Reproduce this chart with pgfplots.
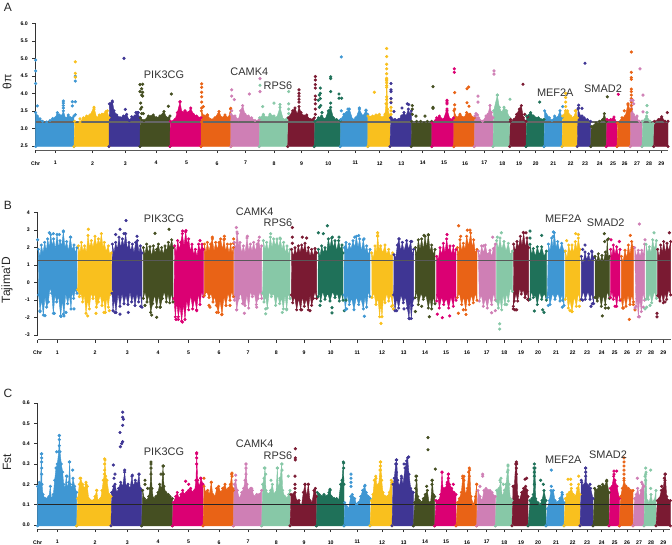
\documentclass[border=0pt]{standalone}
\usepackage{fontspec}
\setmainfont{Liberation Sans}
\usepackage{pgfplots}
\pgfplotsset{compat=1.18}

\definecolor{c1}{HTML}{3F97D3}
\definecolor{c2}{HTML}{F9C01E}
\definecolor{c3}{HTML}{3F3694}
\definecolor{c4}{HTML}{454F22}
\definecolor{c5}{HTML}{DB0073}
\definecolor{c6}{HTML}{E96316}
\definecolor{c7}{HTML}{CF7FB5}
\definecolor{c8}{HTML}{87C8A7}
\definecolor{c9}{HTML}{7A1A32}
\definecolor{c0}{HTML}{1F7159}

% one chromosome: colour, outline of the dense cloud, loose points
\newcommand{\chrom}[3]{%
  \addplot[color=#1,fill=#1,line width=.3pt,mark=*,mark size=\dotsize,mark options={solid,fill=#1}] coordinates {#2} -- cycle;
  \addplot[color=#1,only marks,mark=*,mark size=\dotsize,mark options={solid,fill=#1}] coordinates {#3};
}
\newcommand{\dotsize}{1pt}
\newcommand{\gene}[3]{\node[text=black!80,font=\fontsize{8.2}{9}\selectfont] at (#1,544-#2) {#3};}

\pgfplotsset{
  panel/.style={
    scale only axis,
    clip=false,
    enlargelimits=false,
    anchor=south west,
    axis x line=bottom,
    axis y line=left,
    axis line style={-},
    x axis line style={draw=black!65,line width=.5pt},
    y axis line style={draw=none},
    tick style={black!80,line width=.4pt},
    major tick length=2.4pt,
    tick align=outside,
    tick label style={font=\bfseries\fontsize{3.9}{4}\selectfont},
    xticklabel style={yshift=-2.6pt},
    xticklabels={Chr,1,2,3,4,5,6,7,8,9,10,11,12,13,14,15,16,17,18,19,20,21,22,23,24,25,26,27,28,29},
  },
  tickB/.style={xtick={113,172,285,382,474,566,657,744,829,912,992,1072,1146,1211,1275,1338,1401,1460,1513,1563,1614,1668,1718,1761,1805,1844,1881,1917,1953,1990}},
}

\begin{document}
\begin{tikzpicture}[x=0.75pt,y=0.75pt]
\useasboundingbox (0,0) rectangle (672,544);

% ---------- panel A
\begin{axis}[panel,at={(26.75pt,295.5pt)},width=474.25pt,height=95pt,
  xmin=107,xmax=2004,ymin=2.38,ymax=6,
  xtick={107,166,278,376,468,560,651,737,822,905,985,1066,1139,1204,1268,1332,1395,1453,1507,1557,1607,1660,1712,1755,1799,1839,1874,1911,1947,1984},
  ytick={2.5,3,3.5,4,4.5,5,5.5,6},
  yticklabels={2.5,3.0,3.5,4.0,4.5,5.0,5.5,6.0}]
\addplot[black!80,line width=.4pt] coordinates {(107,2.5)(107,6)};
\chrom{c1}{(107,2.48)(107,3.45)(112,3.35)(120,3.27)(128,3.2)(140,3.18)(150,3.22)(158,3.28)(166,3.3)(172,3.45)(178,3.38)(185,3.35)(190,3.5)(197,3.28)(205,3.38)(212,3.3)(222,3.35)(222,2.48)}{(107,4.95)(107,4.64)(107,4.28)(112,3.64)(190,3.78)(190,3.72)(190,3.65)(190,3.58)(217,3.76)(217,3.64)(226,3.76)(226,3.39)(226,4.49)(226,4.35)}
\chrom{c2}{(222,2.48)(224,3.2)(240,3.18)(250,3.3)(260,3.35)(270,3.38)(282,3.6)(290,3.3)(298,3.38)(306,3.4)(318,3.48)(322,3.5)(327,3.3)(327,2.48)}{(226,4.9)(226,4.57)(226,4.46)(240,3.27)(233,3.08)(282,3.55)}
\chrom{c3}{(327,2.48)(328,3.7)(337,3.78)(342,3.5)(350,3.38)(360,3.3)(370,3.35)(380,3.4)(388,3.22)(395,3.33)(405,3.35)(412,3.45)(420,3.3)(420,2.48)}{(372,5.0)(376,3.54)(408,3.45)(415,3.45)(337,3.75)}
\chrom{c4}{(420,2.48)(421,3.3)(432,3.22)(445,3.35)(460,3.38)(470,3.3)(480,3.35)(492,3.48)(500,3.3)(510,3.35)(510,2.48)}{(420,4.25)(428,4.26)(425,4.13)(420,4.05)(428,4.03)(425,3.95)(428,3.92)(422,3.72)(425,3.6)(422,3.55)(425,3.42)(505,3.63)(514,3.98)(430,3.42)}
\chrom{c5}{(510,2.48)(511,3.2)(525,3.25)(532,3.45)(540,3.75)(546,3.45)(555,3.5)(565,3.45)(572,3.58)(580,3.4)(590,3.35)(603,3.3)(603,2.48)}{(540,3.76)}
\chrom{c6}{(603,2.48)(604,3.5)(612,3.35)(622,3.38)(632,3.25)(645,3.3)(657,3.48)(665,3.3)(675,3.38)(685,3.3)(692,3.55)(692,2.48)}{(605,4.27)(605,4.17)(605,4.03)(605,3.9)(605,3.75)(610,3.62)(605,3.58)(605,3.18)(692,3.57)(622,3.38)}
\chrom{c7}{(692,2.48)(693,3.4)(705,3.35)(715,3.25)(722,3.5)(728,3.65)(735,3.4)(745,3.35)(755,3.3)(765,3.22)(778,3.25)(778,2.48)}{(695,4.1)(695,3.92)(703,3.82)(748,3.98)(695,3.5)(780,4.42)(780,4.05)}
\chrom{c8}{(778,2.48)(779,3.3)(790,3.4)(800,3.3)(810,3.4)(822,3.35)(830,3.3)(840,3.6)(850,3.25)(863,3.3)(863,2.48)}{(780,4.23)(788,3.62)(822,3.72)(840,3.68)(866,4.05)(866,3.7)(866,3.55)(866,3.42)}
\chrom{c9}{(863,2.48)(865,3.3)(878,3.5)(885,3.58)(892,3.4)(897,3.62)(903,3.45)(912,3.35)(920,3.38)(930,3.25)(943,3.3)(943,2.48)}{(897,4.1)(897,4.0)(897,3.92)(897,3.83)(897,3.75)(946,4.48)(946,4.38)(946,4.25)(946,4.15)(946,3.92)(946,3.82)(946,3.7)(946,3.55)(946,3.4)}
\chrom{c0}{(943,2.48)(945,3.2)(955,3.3)(965,3.35)(975,3.25)(985,3.5)(992,3.6)(1000,3.3)(1010,3.25)(1021,3.22)(1021,2.48)}{(961,4.15)(961,4.0)(958,3.95)(961,3.85)(955,3.8)(962,3.65)(958,3.6)(966,3.45)(992,4.47)(992,4.42)(992,4.05)(992,3.72)(1017,3.98)(1017,3.86)(1025,3.86)}
\chrom{c1}{(1021,2.48)(1022,3.25)(1032,3.4)(1040,3.45)(1048,3.55)(1058,3.25)(1068,3.3)(1078,3.55)(1088,3.35)(1098,3.5)(1103,3.4)(1103,2.48)}{(1024,5.04)(1024,3.5)(1044,3.55)(1078,3.58)(1098,3.52)}
\chrom{c2}{(1103,2.48)(1104,3.35)(1118,3.35)(1128,3.38)(1138,3.4)(1146,3.3)(1155,3.4)(1158,3.7)(1160,4.4)(1163,3.55)(1170,3.35)(1170,2.48)}{(1160,5.28)(1160,5.05)(1160,4.83)(1160,4.7)(1160,4.56)(1160,4.43)(1160,4.36)(1160,4.3)(1160,4.22)(1160,4.17)(1160,3.9)(1160,3.82)(1160,3.7)(1123,4.03)(1173,3.75)(1173,3.6)(1173,3.5)(1173,3.4)}
\chrom{c3}{(1170,2.48)(1172,3.3)(1185,3.25)(1195,3.25)(1205,3.35)(1212,3.45)(1218,3.35)(1225,3.55)(1230,3.4)(1234,3.5)(1234,2.48)}{(1173,4.28)(1173,4.1)(1173,4.05)(1173,3.85)(1173,3.73)(1173,3.3)(1182,3.48)(1206,3.58)(1222,3.7)(1226,3.68)}
\chrom{c4}{(1234,2.48)(1235,3.2)(1250,3.2)(1262,3.2)(1272,3.15)(1282,3.2)(1295,3.2)(1295,2.48)}{(1237,3.65)(1237,3.55)(1237,3.4)(1248,3.35)(1275,3.35)(1299,4.19)(1299,3.6)(1299,3.57)}
\chrom{c5}{(1295,2.48)(1296,3.15)(1310,3.3)(1318,3.35)(1330,3.25)(1341,3.55)(1350,3.25)(1361,3.3)(1361,2.48)}{(1341,3.8)(1341,3.75)(1341,3.7)(1341,3.5)(1363,4.7)(1363,4.6)}
\chrom{c6}{(1361,2.48)(1362,3.5)(1370,3.3)(1380,3.4)(1392,3.3)(1400,3.45)(1410,3.4)(1423,3.3)(1423,2.48)}{(1364,4.02)(1364,3.67)(1364,3.55)(1401,4.13)(1406,4.18)(1401,3.73)(1407,3.63)}
\chrom{c7}{(1423,2.48)(1425,3.35)(1436,3.3)(1448,3.2)(1458,3.35)(1464,3.4)(1470,3.65)(1474,3.45)(1479,3.3)(1479,2.48)}{(1434,3.92)(1434,3.75)(1428,3.42)(1432,3.38)(1482,4.64)(1482,4.55)}
\chrom{c8}{(1479,2.48)(1481,3.5)(1492,3.95)(1498,3.6)(1505,3.45)(1512,3.6)(1520,3.5)(1529,3.3)(1529,2.48)}{(1492,3.95)(1530,3.83)}
\chrom{c9}{(1529,2.48)(1531,3.2)(1542,3.25)(1550,3.4)(1558,3.55)(1564,3.65)(1570,3.3)(1578,3.2)(1578,2.48)}{(1569,4.26)(1532,3.25)(1574,3.4)(1582,3.33)}
\chrom{c0}{(1578,2.48)(1580,3.35)(1592,3.45)(1600,3.35)(1615,3.3)(1632,3.25)(1632,2.48)}{(1619,3.75)}
\chrom{c1}{(1632,2.48)(1634,3.5)(1648,3.3)(1656,3.22)(1664,3.35)(1672,3.3)(1680,3.5)(1686,3.3)(1686,2.48)}{(1688,3.62)}
\chrom{c2}{(1686,2.48)(1688,3.35)(1697,3.5)(1703,3.5)(1712,3.35)(1720,3.3)(1728,3.5)(1732,3.3)(1732,2.48)}{(1697,4.0)(1697,3.88)(1697,3.75)(1697,3.62)(1697,3.5)(1726,3.5)}
\chrom{c3}{(1732,2.48)(1734,3.55)(1744,3.3)(1752,3.3)(1762,3.25)(1772,3.2)(1772,2.48)}{(1736,3.66)(1736,3.58)(1746,3.57)(1755,4.86)(1746,3.35)}
\chrom{c4}{(1772,2.48)(1774,3.05)(1788,3.15)(1798,3.2)(1808,3.25)(1813,3.42)(1819,3.2)(1819,2.48)}{(1822,3.9)}
\chrom{c5}{(1819,2.48)(1821,3.25)(1832,3.25)(1842,3.32)(1851,3.15)(1851,2.48)}{(1855,3.97)}
\chrom{c6}{(1851,2.48)(1853,3.15)(1866,3.3)(1876,3.35)(1884,3.7)(1891,3.5)(1891,2.48)}{(1873,3.5)(1884,3.67)(1894,5.18)(1894,4.6)(1894,4.45)(1894,4.4)(1894,4.12)(1894,4.05)(1894,3.95)(1894,3.85)(1894,3.75)(1894,3.65)(1894,3.55)}
\chrom{c7}{(1891,2.48)(1893,3.8)(1900,3.4)(1910,3.3)(1918,3.2)(1926,3.2)(1926,2.48)}{(1920,4.7)(1929,3.95)(1899,3.8)(1901,3.7)(1911,3.35)(1929,3.47)}
\chrom{c8}{(1926,2.48)(1928,3.2)(1940,3.35)(1950,3.2)(1961,3.15)(1961,2.48)}{(1941,3.65)(1941,3.45)}
\chrom{c9}{(1961,2.48)(1963,3.2)(1975,3.25)(1985,3.33)(1995,3.2)(2004,3.2)(2004,2.48)}{(2002,3.45)}
\addplot[black!60,line width=1.3pt] coordinates {(107,3.17)(2004,3.17)};
\end{axis}

% ---------- panel B
\begin{axis}[panel,tickB,at={(28.25pt,153.25pt)},width=474.75pt,height=95.25pt,
  xmin=113,xmax=2012,ymin=-3.257,ymax=4,
  ytick={-3,-2,-1,0,1,2,3,4},
  yticklabels={-3,-2,-1,0,1,2,3,4}]
\addplot[black!80,line width=.4pt] coordinates {(113,-3)(113,4)};
\chrom{c1}{(115,1.9)(120,1.5)(124,2.15)(129,1.7)(134,2.3)(139,1.8)(143,2.5)(148,2.0)(152,2.75)(157,2.1)(161,2.5)(166,1.9)(171,2.75)(176,2.0)(180,2.4)(185,2.1)(190,2.9)(195,2.0)(200,2.35)(205,1.8)(211,2.6)(216,1.9)(222,2.15)(226,1.7)(231,2.0)(231,-.6)(226,-.4)(221,-.9)(216,-.5)(213,-1.5)(208,-.7)(203,-1.2)(197,-.6)(192,-1.9)(187,-1.0)(182,-1.9)(176,-.8)(170,-1.1)(165,-.7)(160,-1.75)(155,-.6)(150,-.3)(145,-1.1)(140,-1.4)(135,-.8)(130,-1.85)(125,-1.0)(120,-1.6)(116,-.7)}{(113,2.45)(148,2.85)(160,2.8)(190,2.95)(178,2.75)(212,2.6)(120,-1.65)(135,-1.88)(163,-1.75)(183,-1.93)(190,-1.8)(198,-1.7)(222,-1.5)}
\chrom{c2}{(235,2.1)(240,1.7)(244,2.3)(249,1.8)(254,2.1)(259,1.7)(264,2.7)(269,2.0)(274,2.4)(279,2.0)(285,2.65)(290,2.1)(295,2.5)(300,2.2)(304,2.8)(309,2.0)(313,2.3)(318,1.8)(325,2.1)(329,1.6)(334,1.7)(334,-.5)(329,-.7)(325,-1.4)(320,-.8)(316,-1.7)(311,-.9)(306,-1.3)(301,-.7)(295,-1.1)(289,-1.4)(284,-.6)(279,-.9)(273,-.6)(268,-1.5)(263,-1.0)(258,-1.75)(253,-.7)(248,-1.1)(243,-.6)(238,-.8)(233,-.4)}{(265,3.05)(263,-1.9)(288,-1.75)(312,-1.7)(328,-1.6)}
\chrom{c3}{(337,2.2)(342,1.7)(347,2.3)(352,1.9)(357,2.6)(362,2.0)(367,2.5)(372,2.1)(377,2.8)(382,1.9)(387,2.3)(392,1.8)(397,2.2)(402,1.7)(407,2.3)(412,2.4)(417,1.7)(421,2.1)(426,1.7)(426,-1.4)(421,-.6)(416,-1.1)(411,-.6)(405,-1.3)(400,-.7)(395,-1.1)(390,-.5)(384,-1.25)(378,-.7)(372,-1.2)(366,-.6)(360,-1.35)(354,-.6)(348,-1.7)(343,-.9)(339,-1.6)(336,-.6)}{(347,2.75)(360,3.05)(378,3.55)(372,2.8)(411,2.65)(345,-1.7)(360,-1.8)(385,-1.7)(422,-1.35)}
\chrom{c4}{(430,2.0)(435,1.6)(440,2.2)(445,1.7)(450,2.05)(455,1.5)(460,2.1)(465,1.7)(470,1.9)(475,2.2)(480,1.7)(485,2.0)(490,1.6)(495,2.1)(500,1.8)(505,2.3)(510,2.0)(515,2.45)(519,2.0)(519,-1.1)(514,-.6)(509,-1.15)(504,-.6)(499,-1.1)(493,-.5)(487,-.9)(481,-1.4)(476,-.7)(470,-1.4)(464,-.7)(458,-1.2)(452,-1.7)(447,-.7)(441,-1.1)(435,-.5)(430,-.9)}{(465,2.82)(507,3.05)(470,-1.98)(455,-1.85)(480,-1.4)(435,-1.3)}
\chrom{c5}{(524,2.1)(529,1.7)(533,2.4)(538,1.9)(542,2.3)(547,2.8)(552,2.1)(557,2.9)(562,2.2)(566,2.5)(571,1.8)(576,2.2)(581,1.6)(586,1.9)(591,1.5)(596,2.2)(601,1.8)(606,2.2)(610,1.9)(610,-.8)(605,-.5)(600,-1.25)(595,-.6)(590,-1.55)(584,-.9)(578,-1.5)(572,-.7)(566,-1.55)(560,-1.0)(555,-2.1)(550,-1.2)(545,-2.2)(540,-1.3)(535,-1.95)(530,-1.1)(526,-1.95)(522,-.9)}{(548,2.95)(558,2.97)(547,-2.25)(528,-2.1)(535,-2.1)(600,2.4)(590,-1.6)}
\chrom{c6}{(613,2.2)(618,1.7)(622,2.3)(627,1.8)(632,2.2)(637,2.5)(642,1.8)(647,2.3)(652,1.9)(657,2.3)(662,2.5)(667,1.9)(672,2.45)(677,1.8)(682,2.2)(687,1.7)(692,2.2)(696,1.7)(700,2.0)(700,-.8)(695,-.5)(690,-1.0)(684,-.6)(678,-1.3)(672,-.8)(666,-1.8)(660,-1.0)(655,-1.7)(649,-1.3)(644,-.8)(639,-1.1)(633,-.6)(627,-.85)(620,-.5)(613,-.75)}{(637,2.6)(673,2.65)(673,2.5)(701,2.5)(701,2.25)(627,-1.3)(630,-1.4)(650,-1.7)(665,-1.83)(690,-1.3)}
\chrom{c7}{(703,2.3)(707,1.9)(711,2.9)(716,2.1)(720,2.3)(725,1.7)(730,2.1)(735,1.7)(741,2.55)(746,1.8)(751,2.2)(756,1.8)(761,2.3)(766,1.8)(771,2.2)(776,2.4)(781,1.9)(785,2.1)(785,-.9)(780,-.5)(774,-.9)(769,-1.25)(763,-.6)(757,-.8)(751,-.5)(746,-1.45)(741,-.7)(735,-1.3)(728,-1.2)(722,-.6)(716,-.9)(710,-1.55)(706,-.7)(703,-1.0)}{(709,3.15)(712,2.8)(742,2.65)(778,2.6)(733,-1.75)(710,-1.55)(770,-1.4)}
\chrom{c8}{(790,2.4)(795,1.9)(800,2.3)(805,1.8)(811,2.6)(816,2.0)(821,2.5)(826,2.1)(831,2.5)(836,2.0)(841,2.5)(846,1.9)(851,2.3)(856,1.7)(861,2.1)(866,1.6)(870,1.9)(870,-.9)(865,-.6)(860,-1.5)(855,-.7)(850,-1.5)(845,-.9)(839,-1.2)(833,-.7)(827,-1.3)(821,-.6)(814,-.8)(808,-.5)(802,-1.45)(797,-.8)(792,-1.1)(788,-.6)}{(812,2.8)(840,2.55)(797,-1.5)(797,-1.78)(847,-1.7)(860,-1.55)}
\chrom{c9}{(875,1.9)(880,1.5)(885,2.0)(890,1.6)(895,2.1)(900,1.7)(905,2.15)(910,1.8)(915,2.25)(920,1.6)(925,2.0)(930,1.5)(935,1.9)(940,1.5)(945,1.95)(950,1.7)(950,-.9)(945,-.5)(940,-.9)(935,-1.3)(930,-.7)(925,-1.55)(919,-.9)(913,-1.35)(907,-.8)(902,-1.55)(896,-.9)(890,-1.55)(884,-.8)(878,-1.15)(874,-.7)}{(877,3.15)(877,2.6)(877,2.25)(907,2.6)(920,2.55)(930,-1.6)(905,-1.55)}
\chrom{c0}{(955,1.9)(960,1.5)(965,2.1)(970,1.7)(975,2.0)(980,1.7)(985,2.5)(990,2.0)(995,2.55)(1000,2.0)(1005,2.4)(1010,1.8)(1016,2.4)(1021,1.9)(1026,2.15)(1029,1.7)(1029,-1.0)(1024,-.6)(1018,-1.05)(1012,-.6)(1005,-.85)(998,-.5)(990,-1.05)(983,-.6)(975,-.95)(968,-.5)(962,-1.05)(958,-.6)(954,-.8)}{(955,2.85)(982,3.25)(970,2.8)(997,2.6)(1017,2.6)(960,-1.3)(996,-1.43)(996,-1.73)(1033,-1.6)(1038,-1.0)}
\chrom{c1}{(1033,2.0)(1038,2.3)(1043,1.8)(1048,2.2)(1053,1.9)(1059,2.4)(1064,2.0)(1069,2.65)(1074,2.0)(1079,2.5)(1084,1.8)(1090,2.45)(1095,1.8)(1100,2.1)(1105,1.6)(1110,1.9)(1110,-.8)(1105,-.5)(1100,-1.4)(1095,-.8)(1090,-1.5)(1083,-.9)(1076,-1.25)(1069,-.8)(1062,-1.55)(1055,-.9)(1048,-1.25)(1041,-.7)(1036,-1.55)(1032,-.7)}{(1076,2.69)(1064,2.6)(1092,2.5)(1093,-1.92)(1040,-1.5)}
\chrom{c2}{(1115,1.7)(1120,1.4)(1125,2.1)(1129,1.7)(1133,2.7)(1137,1.9)(1142,2.1)(1148,1.7)(1155,2.15)(1160,1.6)(1166,1.9)(1172,1.5)(1178,1.7)(1178,-1.3)(1172,-.7)(1166,-1.05)(1160,-.6)(1155,-1.15)(1150,-.9)(1146,-1.95)(1142,-1.2)(1139,-1.95)(1134,-.9)(1128,-1.25)(1122,-.6)(1116,-.85)}{(1133,2.85)(1133,2.65)(1143,-2.33)(1180,-1.5)(1175,-1.35)}
\chrom{c3}{(1182,1.6)(1187,1.4)(1192,2.15)(1197,2.5)(1202,1.8)(1207,2.3)(1212,1.8)(1220,2.4)(1226,1.9)(1232,2.35)(1237,1.6)(1241,1.9)(1241,-.9)(1237,-1.3)(1234,-2.05)(1230,-1.0)(1227,-2.05)(1222,-1.45)(1216,-.8)(1210,-1.15)(1203,-.7)(1196,-1.45)(1190,-.9)(1185,-1.6)(1181,-.7)}{(1197,2.5)(1235,2.35)(1229,-2.05)(1190,-1.6)(1212,-1.5)}
\chrom{c4}{(1246,2.0)(1250,1.6)(1255,2.45)(1260,1.9)(1265,2.5)(1270,1.9)(1275,2.65)(1280,2.0)(1285,2.75)(1290,1.8)(1295,2.15)(1300,1.6)(1305,1.9)(1305,-1.2)(1300,-.8)(1295,-1.5)(1290,-.9)(1285,-1.45)(1278,-.7)(1270,-.95)(1263,-.6)(1255,-1.25)(1250,-.5)(1246,-.85)}{(1285,2.72)(1272,2.7)(1265,-1.35)(1246,-1.65)(1288,-1.95)}
\chrom{c5}{(1310,1.5)(1315,1.3)(1320,2.0)(1325,1.6)(1330,2.25)(1335,1.7)(1340,2.5)(1345,1.8)(1350,2.1)(1355,1.6)(1360,2.1)(1364,1.6)(1368,1.9)(1368,-1.0)(1364,-.7)(1360,-1.35)(1353,-.8)(1346,-1.45)(1339,-.9)(1331,-1.25)(1325,-.8)(1318,-1.45)(1313,-.7)(1310,-1.05)}{(1341,2.75)(1312,-1.8)(1327,-2.0)(1349,-1.9)}
\chrom{c6}{(1372,2.0)(1376,1.6)(1380,2.45)(1385,1.8)(1390,2.25)(1395,1.9)(1400,2.65)(1406,2.1)(1412,2.85)(1417,2.0)(1421,2.45)(1426,1.7)(1431,1.9)(1431,-1.0)(1426,-.6)(1420,-1.15)(1414,-.7)(1408,-1.25)(1402,-.8)(1397,-1.55)(1391,-.8)(1385,-1.25)(1378,-.6)(1372,-.85)}{(1376,3.25)(1402,3.0)(1410,3.0)(1382,2.65)(1375,-1.75)(1398,-1.82)(1390,-1.55)}
\chrom{c7}{(1435,1.8)(1440,1.5)(1445,2.1)(1450,1.7)(1456,2.15)(1462,1.6)(1470,1.85)(1475,1.5)(1480,1.95)(1486,2.2)(1486,-1.0)(1481,-.6)(1475,-1.25)(1468,-.8)(1462,-1.45)(1456,-.9)(1450,-1.35)(1444,-.7)(1438,-1.05)}{(1478,2.6)(1450,2.1)(1475,-1.72)(1486,-1.6)}
\chrom{c8}{(1490,2.4)(1495,1.9)(1500,2.55)(1505,1.9)(1512,2.35)(1518,1.8)(1525,2.25)(1531,1.6)(1537,1.8)(1537,-.5)(1531,-.3)(1525,-1.05)(1520,-.6)(1515,-1.25)(1509,-.7)(1505,-1.55)(1500,-.9)(1495,-1.45)(1490,-1.05)}{(1492,2.6)(1504,2.85)(1499,-2.35)(1499,-2.65)(1520,-1.25)}
\chrom{c9}{(1541,2.2)(1546,1.8)(1551,2.35)(1556,2.0)(1561,2.65)(1566,2.1)(1571,2.85)(1576,2.0)(1581,2.55)(1586,2.0)(1586,-1.0)(1581,-.5)(1575,-.85)(1570,-.4)(1564,-.65)(1559,-.3)(1553,-1.05)(1548,-.6)(1543,-1.05)(1540,-1.35)}{(1540,-1.5)(1545,-1.55)(1550,-1.55)(1570,2.87)(1578,2.85)(1583,-.95)(1577,-.65)}
\chrom{c0}{(1590,2.2)(1595,1.6)(1600,1.95)(1606,1.5)(1612,2.05)(1618,1.6)(1625,2.05)(1632,1.5)(1639,1.8)(1639,-1.0)(1633,-.6)(1625,-.95)(1619,-.5)(1612,-1.25)(1606,-.7)(1600,-.85)(1594,-.5)(1590,-.95)}{(1590,2.95)(1590,2.55)(1625,2.7)(1603,-1.62)(1628,-1.55)(1632,-1.7)}
\chrom{c1}{(1645,2.2)(1650,1.8)(1655,2.55)(1659,2.0)(1663,2.85)(1668,2.0)(1673,2.35)(1679,1.8)(1685,2.25)(1692,1.8)(1692,-1.3)(1686,-.7)(1680,-1.05)(1674,-.6)(1665,-.95)(1658,-.6)(1650,-1.25)(1645,-.6)(1642,-.85)}{(1660,2.9)(1660,2.65)(1645,-1.3)(1687,-1.4)(1688,-1.0)}
\chrom{c2}{(1696,1.8)(1701,1.4)(1706,2.15)(1711,1.7)(1716,2.15)(1721,1.7)(1726,2.35)(1731,1.9)(1735,2.55)(1740,1.9)(1740,-1.0)(1735,-.6)(1729,-1.35)(1723,-.8)(1716,-1.65)(1710,-1.0)(1705,-1.45)(1700,-.7)(1696,-.95)}{(1700,2.4)(1727,2.8)(1735,2.75)(1710,-1.6)(1716,-1.65)(1738,-1.35)}
\chrom{c3}{(1744,1.5)(1749,1.1)(1755,1.75)(1760,1.3)(1766,1.65)(1771,1.2)(1776,1.75)(1781,1.4)(1781,-1.2)(1775,-.6)(1770,-.95)(1764,-.5)(1756,-.95)(1750,-.5)(1744,-.95)}{(1755,2.15)(1775,1.8)(1748,1.9)(1773,-1.35)(1777,-1.2)(1748,-1.0)}
\chrom{c4}{(1785,1.5)(1790,1.2)(1795,1.65)(1800,1.2)(1806,1.55)(1811,1.2)(1816,1.75)(1819,1.5)(1822,2.45)(1825,1.4)(1828,1.5)(1828,-.9)(1822,-.5)(1816,-1.25)(1810,-.7)(1804,-1.35)(1798,-.7)(1792,-1.05)(1785,-.85)}{(1813,2.8)(1814,2.35)(1825,2.5)(1807,-1.9)(1816,-1.45)(1825,-1.45)}
\chrom{c5}{(1832,1.9)(1836,1.5)(1840,2.15)(1845,1.6)(1850,2.05)(1855,1.5)(1860,1.9)(1860,-1.0)(1855,-.6)(1850,-1.35)(1845,-.7)(1840,-.95)(1836,-.5)(1832,-.85)}{(1833,2.45)(1858,2.35)(1845,-1.35)}
\chrom{c6}{(1864,1.5)(1869,1.2)(1875,1.85)(1880,1.4)(1885,2.15)(1890,1.6)(1895,2.35)(1900,2.0)(1900,-1.1)(1895,-.7)(1890,-1.25)(1884,-.7)(1878,-1.35)(1872,-.8)(1868,-1.45)(1864,-.95)}{(1891,2.7)(1888,-2.1)(1870,-1.45)(1900,-1.25)(1905,-1.55)}
\chrom{c7}{(1904,2.0)(1909,1.5)(1915,1.85)(1920,1.5)(1925,1.85)(1930,1.6)(1934,2.2)(1934,-1.0)(1929,-.6)(1924,-1.65)(1919,-.9)(1915,-1.95)(1911,-.9)(1908,-1.35)}{(1918,3.35)(1918,-1.95)(1930,-1.4)(1935,2.45)(1905,-1.45)}
\chrom{c8}{(1938,2.2)(1943,1.7)(1948,2.05)(1953,1.7)(1958,2.45)(1963,1.9)(1969,2.4)(1969,-.9)(1963,-.5)(1955,-1.15)(1950,-.6)(1945,-.95)(1938,-.95)}{(1962,2.85)(1950,-1.3)(1940,-1.4)(1935,-1.5)}
\chrom{c9}{(1973,1.9)(1978,1.4)(1982,2.15)(1987,1.7)(1991,2.35)(1996,1.7)(2001,2.25)(2006,1.8)(2012,2.35)(2012,-.7)(2006,-.4)(2000,-.95)(1995,-.6)(1990,-1.15)(1985,-.6)(1980,-1.05)(1973,-.75)}{(2008,2.85)(1971,-1.75)(1971,-1.95)(1995,-1.1)}
\addplot[black!65,line width=.9pt] coordinates {(113,1.26)(2012,1.26)};
\end{axis}

% ---------- panel C
\begin{axis}[panel,tickB,at={(28.25pt,11.25pt)},width=474.5pt,height=94.5pt,
  xmin=113,xmax=2011,ymin=-0.0197,ymax=0.6,
  ytick={0,.1,.2,.3,.4,.5,.6},
  yticklabels={0.0,0.1,0.2,0.3,0.4,0.5,0.6}]
\addplot[black!80,line width=.4pt] coordinates {(113,0)(113,.6)};
\chrom{c1}{(113,-.004)(113,.19)(118,.21)(122,.2)(124,.35)(126,.2)(129,.15)(135,.13)(142,.13)(147,.14)(151,.19)(154,.13)(160,.15)(164,.22)(168,.28)(172,.3)(176,.36)(178,.44)(180,.36)(184,.3)(188,.26)(191,.2)(195,.18)(199,.24)(202,.18)(206,.21)(209,.31)(211,.2)(215,.18)(219,.23)(224,.19)(230,.16)(230,-.004)}{(125,.35)(125,.33)(125,.31)(125,.28)(125,.25)(178,.44)(178,.42)(178,.39)(170,.36)(178,.36)(218,.27)(208,.31)(201,.24)}
\chrom{c2}{(230,-.004)(233,.13)(238,.2)(242,.23)(248,.2)(254,.18)(258,.21)(262,.19)(266,.13)(272,.12)(280,.12)(285,.14)(290,.17)(294,.12)(302,.13)(306,.17)(310,.22)(313,.25)(315,.32)(317,.24)(321,.22)(327,.15)(333,.14)(333,-.004)}{(314,.325)(314,.3)(314,.27)(240,.23)(258,.2)(290,.17)}
\chrom{c3}{(333,-.004)(335,.16)(341,.19)(345,.2)(350,.16)(356,.18)(362,.21)(368,.19)(374,.26)(378,.19)(384,.2)(390,.18)(396,.24)(400,.19)(406,.22)(412,.2)(417,.25)(421,.18)(425,.17)(425,-.004)}{(368,.555)(368,.53)(370,.52)(368,.49)(360,.455)(368,.41)(361,.385)(365,.4)(340,.295)(345,.25)(342,.23)(374,.27)(397,.245)(417,.25)}
\chrom{c4}{(425,-.004)(428,.17)(433,.13)(440,.12)(446,.14)(450,.18)(453,.3)(456,.18)(460,.13)(468,.14)(474,.16)(479,.2)(485,.18)(489,.29)(492,.19)(497,.16)(505,.15)(510,.14)(517,.13)(517,-.004)}{(453,.31)(453,.28)(453,.25)(490,.29)(483,.25)(490,.25)(435,.22)(435,.2)(443,.18)}
\chrom{c5}{(517,-.004)(520,.11)(527,.14)(532,.16)(537,.13)(543,.15)(548,.17)(553,.15)(560,.16)(566,.17)(572,.18)(578,.16)(584,.17)(588,.22)(590,.35)(593,.22)(598,.19)(603,.23)(609,.2)(609,-.004)}{(590,.355)(590,.33)(590,.3)(557,.215)(566,.2)(602,.23)}
\chrom{c6}{(609,-.004)(612,.19)(617,.16)(623,.17)(628,.15)(634,.21)(638,.15)(645,.14)(650,.18)(656,.19)(662,.16)(668,.18)(675,.2)(680,.17)(686,.18)(691,.2)(695,.25)(698,.18)(700,.17)(700,-.004)}{(696,.255)(696,.24)(634,.21)(612,.23)}
\chrom{c7}{(700,-.004)(703,.2)(707,.22)(712,.17)(718,.13)(725,.16)(731,.18)(735,.22)(738,.3)(741,.2)(745,.17)(752,.18)(757,.17)(762,.14)(770,.15)(778,.15)(785,.17)(785,-.004)}{(738,.3)(738,.28)(738,.25)(707,.245)(755,.18)}
\chrom{c8}{(785,-.004)(788,.2)(792,.23)(795,.28)(798,.17)(805,.15)(812,.17)(817,.2)(822,.15)(828,.16)(832,.28)(835,.18)(840,.22)(845,.3)(848,.17)(854,.14)(860,.13)(866,.15)(870,.17)(870,-.004)}{(793,.28)(797,.25)(813,.22)(832,.28)(846,.3)(846,.27)(840,.23)(865,.24)}
\chrom{c9}{(870,-.004)(873,.15)(880,.15)(885,.16)(890,.12)(897,.12)(904,.09)(910,.16)(915,.2)(920,.14)(925,.2)(930,.12)(936,.11)(942,.17)(946,.18)(949,.14)(949,-.004)}{(886,.375)(886,.33)(886,.32)(885,.24)(885,.2)(885,.18)(915,.2)(925,.2)}
\chrom{c0}{(949,-.004)(952,.16)(958,.15)(965,.14)(972,.15)(980,.14)(987,.16)(990,.17)(994,.14)(1002,.13)(1010,.13)(1016,.12)(1022,.2)(1026,.22)(1030,.31)(1032,.2)(1032,-.004)}{(1031,.305)(1031,.28)(1028,.22)(1028,.2)(990,.175)}
\chrom{c1}{(1032,-.004)(1034,.11)(1040,.09)(1046,.08)(1052,.14)(1057,.15)(1064,.13)(1070,.1)(1076,.11)(1082,.14)(1088,.17)(1094,.19)(1099,.16)(1105,.14)(1110,.13)(1110,-.004)}{(1053,.25)(1053,.23)(1053,.21)(1053,.19)(1095,.195)}
\chrom{c2}{(1110,-.004)(1114,.12)(1119,.15)(1123,.22)(1127,.24)(1131,.19)(1136,.2)(1140,.27)(1142,.31)(1145,.22)(1149,.16)(1155,.14)(1162,.14)(1168,.16)(1174,.22)(1176,.2)(1176,-.004)}{(1141,.29)(1141,.31)(1141,.27)(1142,.24)(1128,.23)(1176,.21)}
\chrom{c3}{(1176,-.004)(1179,.2)(1183,.23)(1187,.3)(1190,.32)(1193,.22)(1198,.19)(1204,.24)(1209,.2)(1215,.28)(1219,.3)(1223,.33)(1227,.25)(1232,.18)(1240,.16)(1240,-.004)}{(1189,.32)(1189,.3)(1189,.26)(1212,.3)(1220,.315)(1226,.335)(1205,.23)}
\chrom{c4}{(1240,-.004)(1244,.11)(1247,.18)(1250,.24)(1253,.14)(1258,.12)(1264,.11)(1270,.13)(1276,.15)(1282,.17)(1287,.11)(1292,.11)(1297,.22)(1300,.15)(1304,.14)(1304,-.004)}{(1284,.43)(1284,.37)(1306,.275)(1248,.24)(1248,.22)(1296,.22)(1296,.2)(1280,.19)}
\chrom{c5}{(1304,-.004)(1308,.12)(1316,.12)(1322,.15)(1326,.26)(1329,.18)(1335,.18)(1341,.2)(1345,.25)(1349,.19)(1355,.18)(1362,.16)(1368,.15)(1368,-.004)}{(1326,.26)(1345,.25)(1345,.23)(1348,.2)(1360,.2)(1342,.21)}
\chrom{c6}{(1368,-.004)(1372,.11)(1378,.13)(1384,.16)(1388,.23)(1392,.24)(1396,.15)(1402,.18)(1406,.26)(1409,.27)(1413,.14)(1420,.1)(1426,.14)(1430,.2)(1430,-.004)}{(1408,.28)(1388,.24)(1392,.22)(1408,.24)(1430,.2)}
\chrom{c7}{(1430,-.004)(1434,.17)(1440,.14)(1446,.12)(1452,.17)(1458,.18)(1464,.17)(1470,.17)(1476,.16)(1486,.14)(1486,-.004)}{(1448,.25)(1448,.24)(1440,.19)}
\chrom{c8}{(1486,-.004)(1490,.17)(1497,.18)(1502,.21)(1507,.14)(1513,.17)(1518,.2)(1522,.26)(1524,.29)(1527,.2)(1531,.13)(1536,.12)(1536,-.004)}{(1524,.295)(1524,.27)(1503,.23)(1510,.2)(1500,.22)}
\chrom{c9}{(1536,-.004)(1539,.19)(1543,.19)(1547,.3)(1550,.3)(1553,.14)(1558,.12)(1565,.16)(1571,.18)(1577,.19)(1581,.17)(1584,.14)(1584,-.004)}{(1549,.31)(1549,.28)(1549,.25)(1540,.19)(1575,.225)(1580,.23)}
\chrom{c0}{(1584,-.004)(1590,.12)(1596,.13)(1600,.15)(1602,.28)(1605,.28)(1607,.13)(1614,.11)(1620,.1)(1626,.12)(1632,.17)(1638,.12)(1638,-.004)}{(1603,.3)(1603,.28)(1603,.26)(1603,.24)(1603,.2)(1622,.22)(1630,.2)}
\chrom{c1}{(1638,-.004)(1642,.08)(1648,.12)(1653,.17)(1660,.17)(1665,.12)(1672,.11)(1680,.13)(1686,.16)(1692,.11)(1692,-.004)}{(1654,.27)(1654,.19)(1687,.15)}
\chrom{c2}{(1692,-.004)(1696,.13)(1702,.15)(1708,.16)(1714,.18)(1720,.15)(1726,.14)(1732,.18)(1736,.2)(1740,.15)(1740,-.004)}{(1704,.225)(1712,.225)(1713,.2)(1736,.24)}
\chrom{c3}{(1740,-.004)(1744,.22)(1749,.19)(1754,.2)(1757,.28)(1760,.2)(1766,.19)(1772,.18)(1779,.13)(1779,-.004)}{(1757,.28)(1757,.26)(1757,.24)(1745,.21)(1770,.2)(1750,.18)}
\chrom{c4}{(1779,-.004)(1784,.18)(1790,.17)(1796,.19)(1802,.18)(1808,.2)(1814,.19)(1820,.22)(1827,.16)(1827,-.004)}{(1820,.215)(1800,.19)}
\chrom{c5}{(1827,-.004)(1831,.18)(1836,.19)(1841,.24)(1845,.22)(1851,.19)(1858,.13)(1858,-.004)}{(1842,.265)(1850,.265)(1842,.25)}
\chrom{c6}{(1858,-.004)(1862,.14)(1867,.18)(1872,.22)(1878,.19)(1885,.18)(1892,.17)(1899,.17)(1899,-.004)}{(1872,.33)(1872,.31)(1872,.29)(1872,.27)(1872,.25)(1872,.23)}
\chrom{c7}{(1899,-.004)(1904,.13)(1909,.15)(1913,.18)(1918,.14)(1923,.17)(1928,.2)(1932,.19)(1932,-.004)}{(1912,.23)(1925,.21)}
\chrom{c8}{(1932,-.004)(1935,.24)(1938,.26)(1941,.12)(1947,.11)(1953,.15)(1958,.11)(1963,.12)(1968,.17)(1968,-.004)}{(1937,.28)(1952,.27)(1937,.25)(1952,.18)(1937,.22)}
\chrom{c9}{(1968,-.004)(1972,.12)(1978,.13)(1984,.17)(1990,.18)(1993,.23)(1996,.25)(2000,.14)(2006,.12)(2011,.12)(2011,-.004)}{(1995,.25)(1995,.22)(1985,.19)}
\addplot[black!85,line width=.5pt] coordinates {(113,.1)(2011,.1)};
\end{axis}

% panel letters and y labels
\node[text=black!85,font=\fontsize{9}{10}\selectfont] at (8,544-7) {A};
\node[text=black!85,font=\fontsize{9}{10}\selectfont] at (8,544-205) {B};
\node[text=black!85,font=\fontsize{9}{10}\selectfont] at (8,544-393) {C};
\node[rotate=90,text=black!85,font=\fontsize{9}{10}\selectfont] at (7,544-82) {θπ};
\node[rotate=90,text=black!85,font=\fontsize{9}{10}\selectfont] at (7,544-280) {Tajima'D};
\node[rotate=90,text=black!85,font=\fontsize{9}{10}\selectfont] at (7,544-462) {Fst};

% gene names
\gene{164}{75}{PIK3CG}\gene{249.3}{71.3}{CAMK4}\gene{278}{85.7}{RPS6}\gene{555.3}{92.3}{MEF2A}\gene{603}{88.3}{SMAD2}
\gene{164}{218.7}{PIK3CG}\gene{254.7}{212}{CAMK4}\gene{278}{222.3}{RPS6}\gene{563.3}{218.7}{MEF2A}\gene{605.7}{222.3}{SMAD2}
\gene{164}{451.7}{PIK3CG}\gene{254.7}{444}{CAMK4}\gene{278}{455.3}{RPS6}\gene{563.3}{460}{MEF2A}\gene{608}{455}{SMAD2}
\end{tikzpicture}
\end{document}
